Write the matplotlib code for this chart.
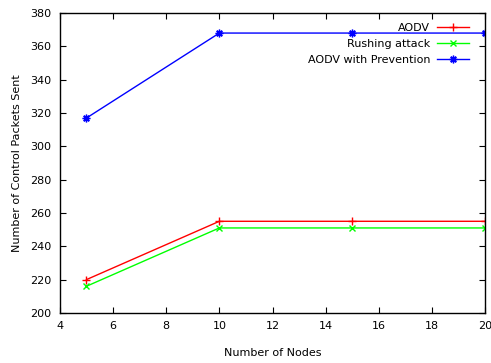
import matplotlib
matplotlib.use("Agg")
import matplotlib.pyplot as plt

nodes = [5, 10, 15, 20]
aodv = [220, 255, 255, 255]
rushing = [216, 251, 251, 251]
prevention = [317, 368, 368, 368]
labels = ["AODV", "Rushing attack", "AODV with Prevention"]

fig = plt.figure(figsize=(4.91, 3.63), dpi=100)
ax = fig.add_axes([0.122, 0.138, 0.866, 0.826])
ax.plot(nodes, aodv, color="#ff0000", marker="+", markersize=6, linewidth=1, label=labels[0])
ax.plot(nodes, rushing, color="#00ff00", marker="x", markersize=5, linewidth=1, label=labels[1])
ax.plot(nodes, prevention, color="#0000ff", marker=(8, 2, 0), markersize=5.5, linewidth=1, label=labels[2])
ax.set_xlim(4, 20)
ax.set_ylim(200, 380)
ax.set_xticks(range(4, 21, 2))
ax.set_yticks(range(200, 381, 20))
ax.tick_params(direction="in", top=True, right=True, labelsize=8, length=4, pad=6)
for s in ax.spines.values():
    s.set_linewidth(1)
ax.set_xlabel("Number of Nodes", fontsize=8, labelpad=12)
ax.set_ylabel("Number of Control Packets Sent", fontsize=8, labelpad=6)
leg = ax.legend(loc="upper right", frameon=False, fontsize=8, markerfirst=False,
                handlelength=2.9, labelspacing=0.55, borderaxespad=0.55, handletextpad=0.6,
                borderpad=0.3, bbox_to_anchor=(0.985, 1.0))
try:
    for col in leg._legend_box._children[-1]._children:
        col.align = "right"
except Exception:
    pass
fig.savefig("out.png", dpi=100)
